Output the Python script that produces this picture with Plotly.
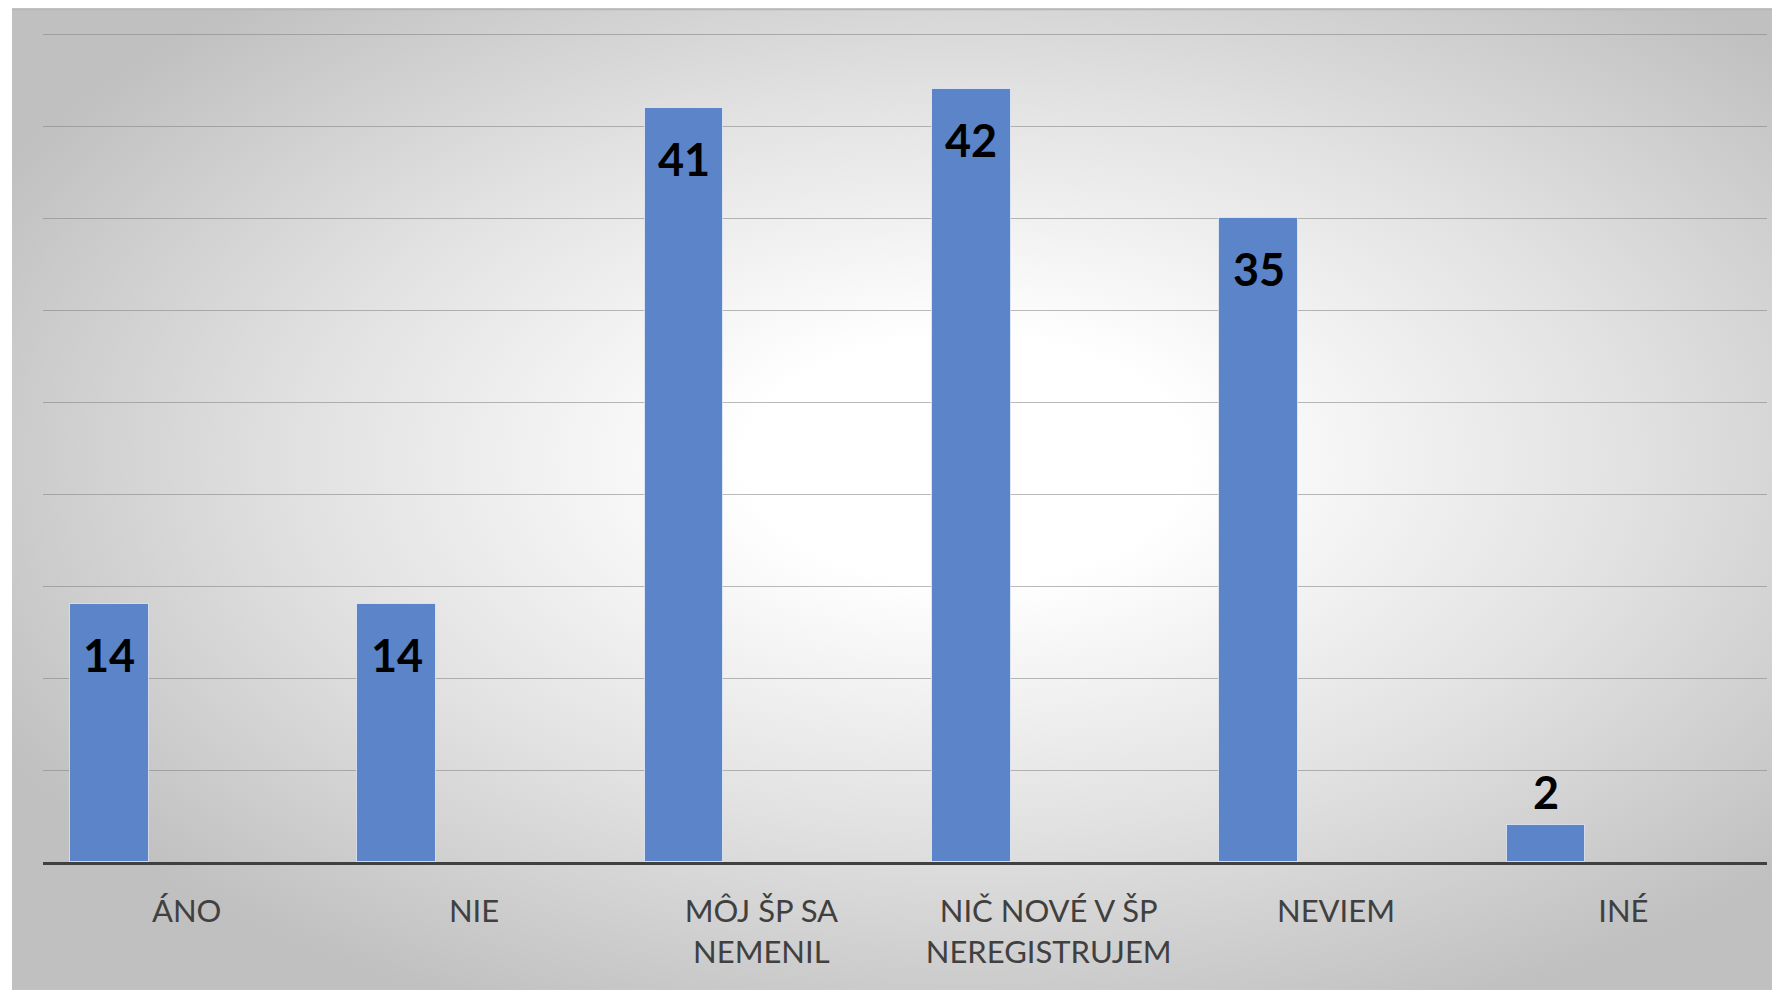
import base64
import plotly.graph_objects as go

categories = ["ÁNO", "NIE", "MÔJ ŠP SA<br>NEMENIL", "NIČ NOVÉ V ŠP<br>NEREGISTRUJEM", "NEVIEM", "INÉ"]
values = [14, 14, 41, 42, 35, 2]
y_ticks = [0, 5, 10, 15, 20, 25, 30, 35, 40, 45]

# page body has an 8px margin; figure coordinates = page coordinates - 8
W, H = 1772, 982
y_top = 45.5
axis_px, top_grid_px = 854, 26
ph = (axis_px - top_grid_px) * y_top / 45
L, R, B = 35, 13, H - axis_px
T = H - B - ph
pw = W - L - R

bar_offset = -0.406
bar_width = 0.274

svg = f'''<svg xmlns="http://www.w3.org/2000/svg" width="1768" height="986" viewBox="0 0 1768 986" preserveAspectRatio="none">
<defs><radialGradient id="g" cx="0.54" cy="0.46" r="0.62" fx="0.54" fy="0.46">
<stop offset="0" stop-color="#ffffff"/><stop offset="0.2" stop-color="#ffffff"/>
<stop offset="0.6" stop-color="#e2e2e2"/><stop offset="1" stop-color="#c0c0c0"/></radialGradient></defs>
<rect x="0" y="0" width="1768" height="986" fill="url(#g)"/></svg>'''
src = "data:image/svg+xml;base64," + base64.b64encode(svg.encode()).decode()

def px2x(px):
    return (px - L) / pw

def px2y(py):
    return (H - B - py) / ph

fig = go.Figure()
fig.add_trace(go.Bar(
    x=list(range(len(categories))), y=values,
    width=bar_width, offset=bar_offset,
    marker=dict(color="#5b84c9", line=dict(color="rgba(255,255,255,0.6)", width=1)),
    hoverinfo="skip",
))

annotations = []
for i, v in enumerate(values):
    inside = v >= 5
    annotations.append(dict(
        x=i + bar_offset + bar_width / 2, y=v, xref="x", yref="y",
        text=f"<b>{v}</b>", showarrow=False,
        yshift=-51 if inside else 33,
        font=dict(family="Lato", size=45, color="#000000", weight=900),
    ))

fig.update_layout(
    width=W, height=H,
    margin=dict(l=L, r=R, t=T, b=B, pad=0),
    paper_bgcolor="#ffffff", plot_bgcolor="rgba(0,0,0,0)",
    showlegend=False,
    bargap=0,
    images=[dict(source=src, xref="paper", yref="paper",
                 x=px2x(4), y=px2y(0), sizex=px2x(W) - px2x(4), sizey=px2y(0) - px2y(H),
                 xanchor="left", yanchor="top", sizing="stretch", layer="below")],
    shapes=[dict(type="line", xref="paper", yref="paper",
                 x0=px2x(4), x1=px2x(W), y0=px2y(1), y1=px2y(1),
                 line=dict(color="#b8b8b8", width=2))],
    annotations=annotations,
    xaxis=dict(
        range=[-0.5, len(categories) - 0.5],
        tickmode="array", tickvals=list(range(len(categories))), ticktext=categories,
        showline=True, linecolor="#404040", linewidth=3,
        showgrid=False, zeroline=False, ticks="",
        ticklabelstandoff=20, automargin=False,
        tickfont=dict(family="Lato", size=31, color="#404040"),
    ),
    yaxis=dict(
        range=[0, y_top], tickvals=y_ticks, showticklabels=False,
        showgrid=True, gridcolor="rgba(130,130,130,0.55)", gridwidth=1.3,
        zeroline=False, showline=False, ticks="", automargin=False,
    ),
)

fig.write_html("out.html")
